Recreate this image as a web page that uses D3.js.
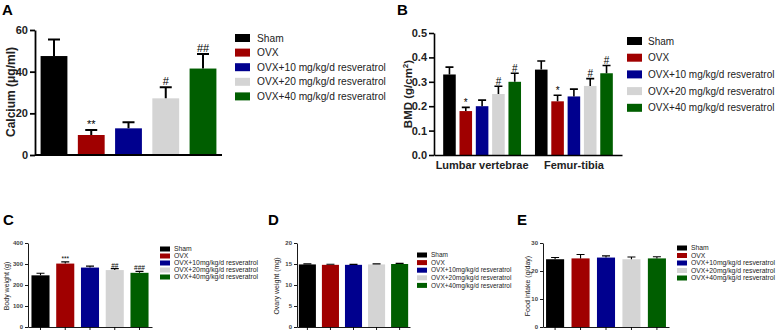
<!DOCTYPE html>
<html>
<head>
<meta charset="utf-8">
<script src="https://cdn.jsdelivr.net/npm/d3@7"></script>
<style>
  body { margin: 0; background: #fff; }
  svg { display: block; font-family: "Liberation Sans", Arial, sans-serif; }
</style>
</head>
<body>
<div id="chart"></div>
<script>

// --------------------------------------------------------
// data
var groups          =   ["Sham", "OVX", "OVX+10", "OVX+20", "OVX+40"];
var legend_ab       =   ["Sham", "OVX", "OVX+10 mg/kg/d resveratrol", "OVX+20 mg/kg/d resveratrol", "OVX+40 mg/kg/d resveratrol"];
var legend_cde      =   ["Sham", "OVX", "OVX+10mg/kg/d resveratrol", "OVX+20mg/kg/d resveratrol", "OVX+40mg/kg/d resveratrol"];
var colors          =   ["#000000", "#a00000", "#00008e", "#d4d4d4", "#005e00"];

var calcium_mean    =   [47.5, 9.6, 12.8, 27.2, 41.5];
var calcium_sem     =   [8.0, 2.4, 2.9, 5.3, 7.0];
var calcium_marks   =   ["", "**", "", "#", "##"];

var bmd_sites       =   ["Lumbar vertebrae", "Femur-tibia"];
var bmd_lumbar      =   [0.33, 0.18, 0.20, 0.25, 0.30];
var bmd_lumbar_sem  =   [0.030, 0.015, 0.025, 0.032, 0.035];
var bmd_femur       =   [0.35, 0.22, 0.24, 0.283, 0.335];
var bmd_femur_sem   =   [0.035, 0.025, 0.030, 0.030, 0.032];
var bmd_marks       =   ["", "*", "", "#", "#"];

var weight_mean     =   [246, 302, 283, 271, 258];
var weight_sem      =   [10, 8, 7, 7, 7];
var weight_marks    =   ["", "***", "", "##", "###"];

var ovary_mean      =   [14.9, 14.8, 14.8, 14.9, 15.0];
var ovary_sem       =   [0.12, 0.15, 0.10, 0.12, 0.15];

var food_mean       =   [24.2, 24.5, 24.8, 24.2, 24.5];
var food_sem        =   [0.6, 1.4, 0.6, 0.8, 0.6];

// --------------------------------------------------------

var svg = d3.select("#chart")
	.append("svg")
	.attr("width", 778)
	.attr("height", 333);

function panelLetter(t, x, y) {
	svg.append("text")
		.attr("x", x).attr("y", y)
		.attr("font-size", 15)
		.attr("font-weight", "bold")
		.text(t);
}

function legend(labels, x, y, step, sw, sh, fs, gap) {
	var g = svg.append("g").attr("transform", "translate(" + x + "," + y + ")");
	var row = g.selectAll("g")
		.data(labels)
		.enter()
		.append("g")
		.attr("transform", (d, i) => "translate(0," + (i * step) + ")");
	row.append("rect")
		.attr("x", 0).attr("y", -sh / 2)
		.attr("width", sw).attr("height", sh)
		.attr("fill", (d, i) => colors[i]);
	row.append("text")
		.attr("x", sw + gap).attr("y", 0)
		.attr("dy", "0.35em")
		.attr("font-size", fs)
		.attr("fill", "#222")
		.text((d) => d);
}

// draws bars + error bars (upwards only) + marks for one set of 5
function bars(g, x_pos, width, y_scale, mean, sem, marks, o) {
	var items = mean.map((m, i) => ({ i: i, m: m, s: sem[i], k: marks ? marks[i] : "" }));
	g.selectAll(null)
		.data(items)
		.enter()
		.append("rect")
		.attr("x", (d) => x_pos(d.i))
		.attr("y", (d) => y_scale(d.m))
		.attr("width", width)
		.attr("height", (d) => y_scale(0) - y_scale(d.m))
		.attr("fill", (d) => colors[d.i]);
	g.selectAll(null)
		.data(items)
		.enter()
		.append("path")
		.attr("d", (d) => {
			var cx = x_pos(d.i) + width / 2;
			var t = y_scale(d.m + d.s);
			return "M" + cx + "," + y_scale(d.m) + "V" + t +
				"M" + (cx - o.cap) + "," + t + "H" + (cx + o.cap);
		})
		.attr("stroke", "#000")
		.attr("stroke-width", o.ew)
		.attr("fill", "none");
	g.selectAll(null)
		.data(items.filter((d) => d.k))
		.enter()
		.append("text")
		.attr("x", (d) => x_pos(d.i) + width / 2)
		.attr("y", (d) => y_scale(d.m + d.s) - o.ew)
		.attr("text-anchor", "middle")
		.attr("font-size", o.mfs)
		.text((d) => d.k);
}

function yAxis(g, x, y_scale, ticks, fmt, fs, sw, col) {
	var ax = g.append("g")
		.attr("transform", "translate(" + x + ",0)")
		.call(d3.axisLeft(y_scale).tickValues(ticks).tickFormat(fmt).tickSize(fs > 8 ? 5 : 3).tickPadding(2).tickSizeOuter(0));
	ax.select(".domain").attr("stroke-width", sw);
	ax.selectAll(".tick line").attr("stroke-width", sw);
	ax.selectAll("text")
		.attr("font-size", fs)
		.attr("font-weight", "bold")
		.attr("fill", col)
		.attr("font-family", "Liberation Sans, Arial, sans-serif");
	return ax;
}

function yTitle(x, yc, text, fs, weight, col) {
	return svg.append("text")
		.attr("transform", "translate(" + x + "," + yc + ") rotate(-90)")
		.attr("text-anchor", "middle")
		.attr("dy", "0.35em")
		.attr("font-size", fs)
		.attr("font-weight", weight)
		.attr("fill", col)
		.text(text);
}

// --------------------------------------------------------
// Panel A
panelLetter("A", 2, 15);
(function () {
	var g = svg.append("g");
	var y_scale = d3.scaleLinear().domain([0, 60]).range([155, 30]);
	var x_scale = d3.scaleBand().domain(d3.range(5)).range([35, 222]).paddingInner(0.28).paddingOuter(0.15);
	bars(g, (i) => x_scale(i), x_scale.bandwidth(), y_scale, calcium_mean, calcium_sem, calcium_marks,
		{ cap: 6, ew: 2, mfs: 11 });
	yAxis(g, 35, y_scale, [0, 20, 40, 60], d3.format("d"), 11, 1.8, "#222");
	g.append("line")
		.attr("x1", 35).attr("x2", 222)
		.attr("y1", 155).attr("y2", 155)
		.attr("stroke", "#000").attr("stroke-width", 1.8);
	yTitle(11, 92, "Calcium (μg/ml)", 12, "bold", "#222");
})();
legend(legend_ab, 235, 38, 14.6, 15, 8, 10.2, 7);

// --------------------------------------------------------
// Panel B
panelLetter("B", 397, 15);
(function () {
	var g = svg.append("g");
	var y_scale = d3.scaleLinear().domain([0, 0.5]).range([155, 33]);
	var x0 = d3.scaleBand().domain(bmd_sites).range([434, 622]).paddingInner(0.152).paddingOuter(0.1);
	var x1 = d3.scaleBand().domain(d3.range(5)).range([0, x0.bandwidth()]).paddingInner(0.23).paddingOuter(0);
	var o = { cap: 4, ew: 1.6, mfs: 10 };
	bars(g, (i) => x0(bmd_sites[0]) + x1(i), x1.bandwidth(), y_scale, bmd_lumbar, bmd_lumbar_sem, bmd_marks, o);
	bars(g, (i) => x0(bmd_sites[1]) + x1(i), x1.bandwidth(), y_scale, bmd_femur, bmd_femur_sem, bmd_marks, o);
	yAxis(g, 434, y_scale, [0, 0.1, 0.2, 0.3, 0.4, 0.5], d3.format(".1f"), 11, 1.6, "#222");
	var xa = g.append("g")
		.attr("transform", "translate(0,155)")
		.call(d3.axisBottom(x0).tickSize(0).tickPadding(6).tickSizeOuter(0));
	xa.select(".domain").attr("stroke-width", 1.6);
	xa.selectAll("text")
		.attr("font-size", 11)
		.attr("font-weight", "bold")
		.attr("fill", "#222")
		.attr("font-family", "Liberation Sans, Arial, sans-serif");
	var t = yTitle(408, 94, "", 11.5, "bold", "#222");
	t.append("tspan").text("BMD (g/cm");
	t.append("tspan").attr("baseline-shift", "super").attr("font-size", 8).text("2");
	t.append("tspan").text(")");
})();
legend(legend_ab, 627, 41, 16.7, 15, 8, 10, 6);

// --------------------------------------------------------
// small panels C, D, E
function smallPanel(cfg) {
	panelLetter(cfg.letter, cfg.lx, 225);
	var g = svg.append("g");
	var y_scale = d3.scaleLinear().domain([0, cfg.max]).range([327, 243]);
	var x_scale = d3.scaleBand().domain(d3.range(5)).range([cfg.x0, cfg.x1]).paddingInner(cfg.pi).paddingOuter(cfg.po);
	bars(g, (i) => x_scale(i), x_scale.bandwidth(), y_scale, cfg.mean, cfg.sem, cfg.marks,
		{ cap: 4, ew: 1.1, mfs: 6.5 });
	yAxis(g, cfg.x0, y_scale, cfg.ticks, d3.format("d"), 6, 0.9, "#444");
	var xa = g.append("g")
		.attr("transform", "translate(0,327)")
		.call(d3.axisBottom(x_scale).tickSize(3).tickFormat("").tickSizeOuter(0));
	xa.select(".domain").attr("stroke-width", 0.9);
	xa.selectAll(".tick line").attr("stroke-width", 0.9);
	yTitle(cfg.tx, 286, cfg.title, 7, "normal", "#222");
	legend(legend_cde, cfg.legx, cfg.legy, cfg.legstep, 10, 5, cfg.legfs, 4);
}

smallPanel({ letter: "C", lx: 3, max: 400, ticks: [0, 100, 200, 300, 400], x0: 28, x1: 152, pi: 0.27, po: 0.14,
	mean: weight_mean, sem: weight_sem, marks: weight_marks, tx: 7, title: "Body weight (g)",
	legx: 160, legy: 249, legstep: 7, legfs: 6.8 });

smallPanel({ letter: "D", lx: 268, max: 20, ticks: [0, 5, 10, 15, 20], x0: 297, x1: 410, pi: 0.26, po: 0.08,
	mean: ovary_mean, sem: ovary_sem, marks: null, tx: 277, title: "Ovary weight (mg)",
	legx: 417, legy: 255, legstep: 7.6, legfs: 6.5 });

smallPanel({ letter: "E", lx: 517, max: 30, ticks: [0, 10, 20, 30], x0: 543, x1: 669, pi: 0.29, po: 0.12,
	mean: food_mean, sem: food_sem, marks: null, tx: 528, title: "Food intake (g/day)",
	legx: 677, legy: 248, legstep: 7.5, legfs: 6.8 });

</script>
</body>
</html>
